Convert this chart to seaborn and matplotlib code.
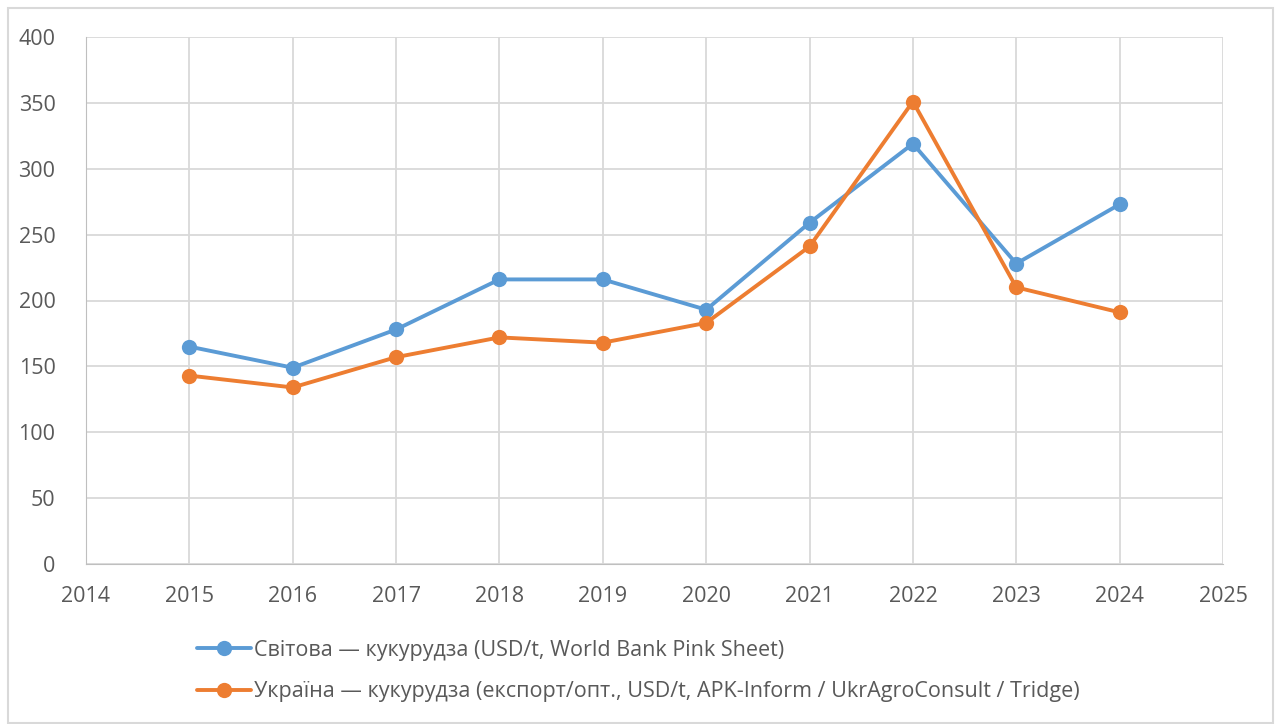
import pandas as pd
import matplotlib.pyplot as plt
import seaborn as sns

# дані
years = [2015, 2016, 2017, 2018, 2019, 2020, 2021, 2022, 2023, 2024]
world_corn = [165, 149, 178, 216, 216, 193, 259, 319, 228, 273]
ukraine_corn = [143, 134, 157, 172, 168, 183, 241, 351, 210, 191]
label_world = 'Світова — кукурудза (USD/t, World Bank Pink Sheet)'
label_ukraine = 'Україна — кукурудза (експорт/опт., USD/t, APK-Inform / UkrAgroConsult / Tridge)'

df = pd.DataFrame({
    'year': years * 2,
    'price': world_corn + ukraine_corn,
    'series': [label_world] * len(years) + [label_ukraine] * len(years),
})

sns.set_style('white')
plt.rcParams['font.family'] = ['Open Sans', 'DejaVu Sans']

fig = plt.figure(figsize=(12.81, 7.24), dpi=100)
ax = fig.add_axes([86 / 1281, 1 - 564 / 724, (1223 - 86) / 1281, (564 - 37) / 724])

# рамка навколо діаграми
fig.patches.append(plt.Rectangle((8 / 1281, 0.002), 1 - 16 / 1281, 1 - 8 / 724 - 0.002,
                                 transform=fig.transFigure, fill=False,
                                 edgecolor='#D9D9D9', linewidth=1.5))

sns.lineplot(data=df, x='year', y='price', hue='series', ax=ax,
             palette=['#5B9BD5', '#ED7D31'], marker='o', markersize=11,
             markeredgewidth=0, linewidth=2.8, zorder=3)

ax.set_xlim(2014, 2025)
ax.set_ylim(0, 400)
ax.set_xticks(range(2014, 2026))
ax.set_yticks(range(0, 401, 50))
ax.grid(True, color='#D9D9D9', linewidth=1.3)
ax.set_axisbelow(True)
for s in ['top', 'right']:
    ax.spines[s].set_visible(False)
ax.spines['left'].set_color('#BFBFBF')
ax.spines['bottom'].set_color('#BFBFBF')
ax.tick_params(axis='y', length=0, labelsize=15.5, labelcolor='#595959', pad=22)
ax.tick_params(axis='x', length=0, labelsize=15.5, labelcolor='#595959', pad=16)
ax.set_xlabel('')
ax.set_ylabel('')

handles, labels = ax.get_legend_handles_labels()
ax.legend(handles, labels, loc='upper left', bbox_to_anchor=(186 / 1281, 1 - 629 / 724),
          bbox_transform=fig.transFigure, frameon=False, fontsize=15.5,
          labelcolor='#595959', handlelength=2.5, handletextpad=0.15, labelspacing=0.95,
          borderpad=0)

plt.savefig('out.png', dpi=100)
